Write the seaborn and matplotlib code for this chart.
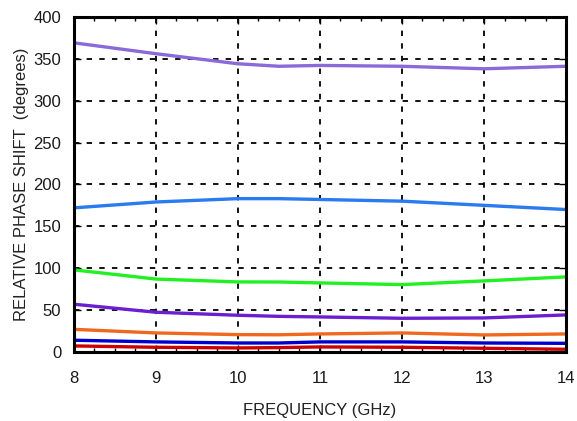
import pandas as pd
import numpy as np
import matplotlib
matplotlib.use('Agg')
import matplotlib.pyplot as plt
from matplotlib.ticker import MultipleLocator
import seaborn as sns

# Datos (GHz -> grados)
freq = [8, 9, 10, 10.5, 11, 12, 13, 14]
s_purple_top = [369, 356, 344, 341, 342, 341, 338, 341]
s_blue_light = [172, 179, 183, 183, 182, 180, 175, 170]
s_green      = [98, 87, 83.6, 83.5, 82.4, 80.4, 84.8, 89.6]
s_purple     = [57, 47.4, 43.8, 42.5, 41.8, 40.2, 40.6, 44.2]
s_orange     = [27, 22.7, 20.7, 20.5, 21.5, 22.7, 20.3, 21.5]
s_blue_dark  = [14, 12, 10.7, 10.7, 12, 12, 10.7, 10.3]
s_red        = [7.2, 5.6, 4.8, 5.2, 6, 5.6, 4.4, 3.2]

series = {
    'p360': s_purple_top, 'p180': s_blue_light, 'p90': s_green,
    'p45': s_purple, 'p22': s_orange, 'p11': s_blue_dark, 'p5': s_red,
}
COL = {'p360': '#8a6ad8', 'p180': '#2a7af0', 'p90': '#22f022',
       'p45': '#6a1fd0', 'p22': '#f0681e', 'p11': '#0000cc', 'p5': '#cc0000'}

df = pd.concat([pd.DataFrame({'freq': freq, 'fase': v, 'bit': k})
                for k, v in series.items()], ignore_index=True)

sns.set_style('ticks')
plt.rcParams['font.family'] = ['Liberation Sans', 'DejaVu Sans']

fig = plt.figure(figsize=(5.77, 4.21), dpi=100)
ax = fig.add_axes([0.128, 0.164, 0.853, 0.796])

sns.lineplot(data=df, x='freq', y='fase', hue='bit', palette=COL,
             linewidth=2.4, legend=False, ax=ax, estimator=None, sort=True)

ax.set_xlim(8, 14)
ax.set_ylim(0, 400)
ax.xaxis.set_major_locator(MultipleLocator(1))
ax.xaxis.set_minor_locator(MultipleLocator(0.25))
ax.yaxis.set_major_locator(MultipleLocator(50))
ax.grid(True, which='major', color='black', linestyle=(0, (3, 4)), linewidth=1.3)
ax.tick_params(which='both', direction='in', top=True, right=True, colors='black',
               labelsize=12)
ax.tick_params(axis='x', pad=14)
ax.tick_params(axis='y', pad=9)
ax.tick_params(axis='both', labelcolor='#1a1a1a')
ax.tick_params(which='major', length=5, width=1)
ax.tick_params(which='minor', length=3, width=1)
for sp in ax.spines.values():
    sp.set_linewidth(2.2)
    sp.set_color('black')

ax.set_xlabel('FREQUENCY (GHz)', fontsize=12, labelpad=12, color='#222222')
ax.set_ylabel('RELATIVE PHASE SHIFT  (degrees)', fontsize=12, labelpad=3, color='#222222')

plt.savefig('out.png', dpi=100)
plt.close()
